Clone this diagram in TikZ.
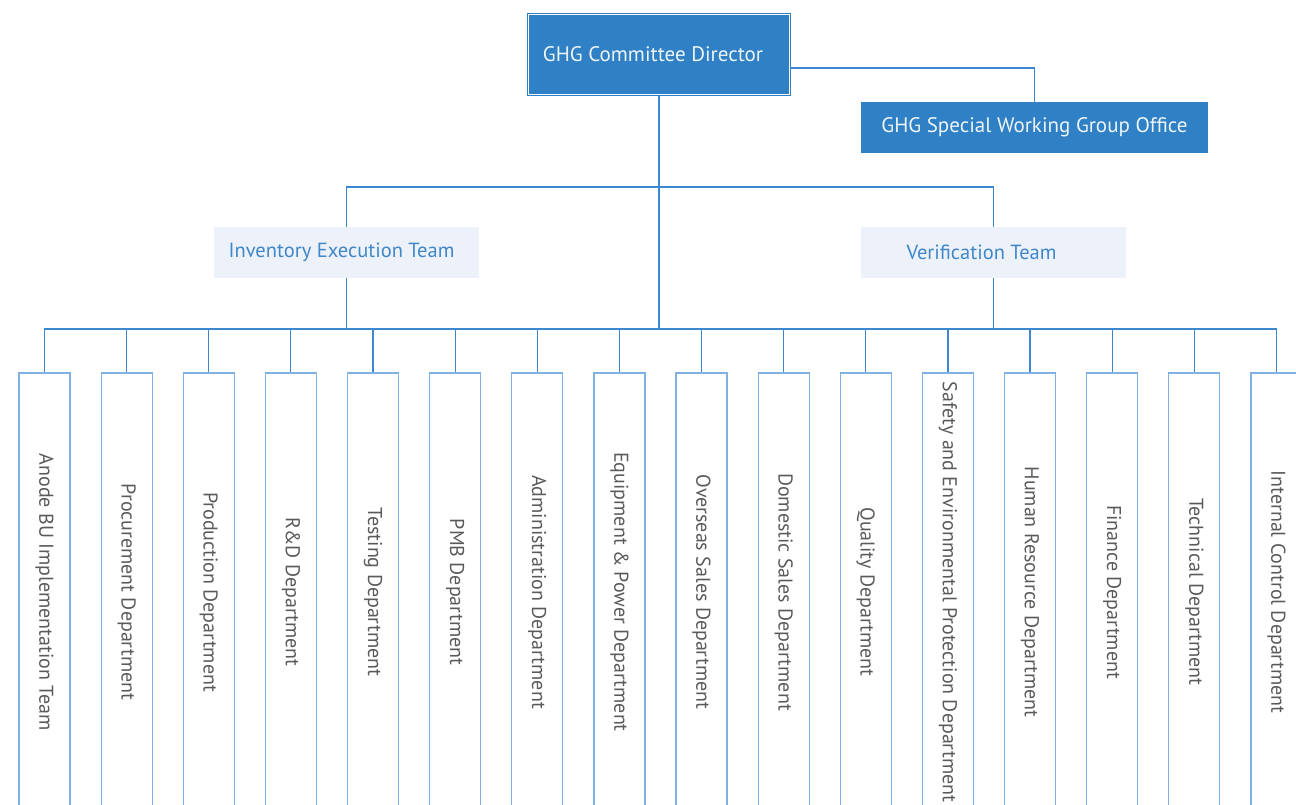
\documentclass[tikz,border=0pt]{standalone}
\usepackage{fontspec}
\setmainfont{PT Sans}
\usetikzlibrary{positioning}

\definecolor{chartblue}{HTML}{2F80C4}
\definecolor{linkblue}{HTML}{3C87CF}
\definecolor{teamfill}{HTML}{EDF2FA}
\definecolor{teamtext}{HTML}{3F87C8}
\definecolor{deptline}{HTML}{7FB2E2}
\definecolor{depttext}{HTML}{5A5A5A}

\tikzset{
  link/.style={draw=linkblue, line width=1.2pt},
  director/.style={fill=chartblue, draw=chartblue, double=white, double distance=1pt,
    line width=1pt, minimum width=261pt, minimum height=80pt, text=white!92!chartblue,
    font=\fontsize{21}{25}\selectfont},
  office/.style={fill=chartblue, minimum width=347pt, minimum height=51pt,
    text=white!92!chartblue, font=\fontsize{21}{25}\selectfont},
  team/.style={fill=teamfill, minimum width=265pt, minimum height=51pt,
    text=teamtext, font=\fontsize{20.5}{24}\selectfont},
  dept/.style={draw=deptline, line width=1.2pt, minimum width=51pt, minimum height=438pt,
    inner sep=0pt},
  deptname/.style={rotate=-90, text=depttext, font=\fontsize{20}{24}\selectfont}
}

\begin{document}
\begin{tikzpicture}[x=1pt, y=-1pt]
    \useasboundingbox (0,0) rectangle (1296,805);

    \node[director] (dir) at (659,54.5) {GHG Committee Director\hspace*{12pt}};
    \node[office] (office) at (1034.5,127.5) {GHG Special Working Group Office};
    \node[team] (inv) at (346.5,252.5) {Inventory Execution Team\hspace*{10pt}};
    \node[team] (ver) at (993.5,252.5) {Verification Team\hspace*{24pt}};

    \coordinate (tbar) at (659,187);
    \coordinate (bus) at (659,329);

    % departments along the bottom
    \foreach \name [count=\i from 0] in {
        Anode BU Implementation Team, Procurement Department,
        Production Department, R\&D Department, Testing Department,
        PMB Department, Administration Department,
        Equipment \& Power Department, Overseas Sales Department,
        Domestic Sales Department, Quality Department,
        Safety and Environmental Protection Department,
        Human Resource Department, Finance Department,
        Technical Department, Internal Control Department} {
      \node[dept] (d\i) at ({44.5+82.13*\i},592) {};
      \node[deptname] at (d\i.center) {\name};
      \draw[link] (d\i.north) |- (bus);
    }

    \draw[link] (dir.south) -- (bus);
    \draw[link] ([yshift=-13.5pt]dir.east) -| (office.north);
    \draw[link] (inv.north) |- (tbar) -| (ver.north);
    \draw[link] (inv.south) |- (bus);
    \draw[link] (ver.south) |- (bus);
\end{tikzpicture}
\end{document}
